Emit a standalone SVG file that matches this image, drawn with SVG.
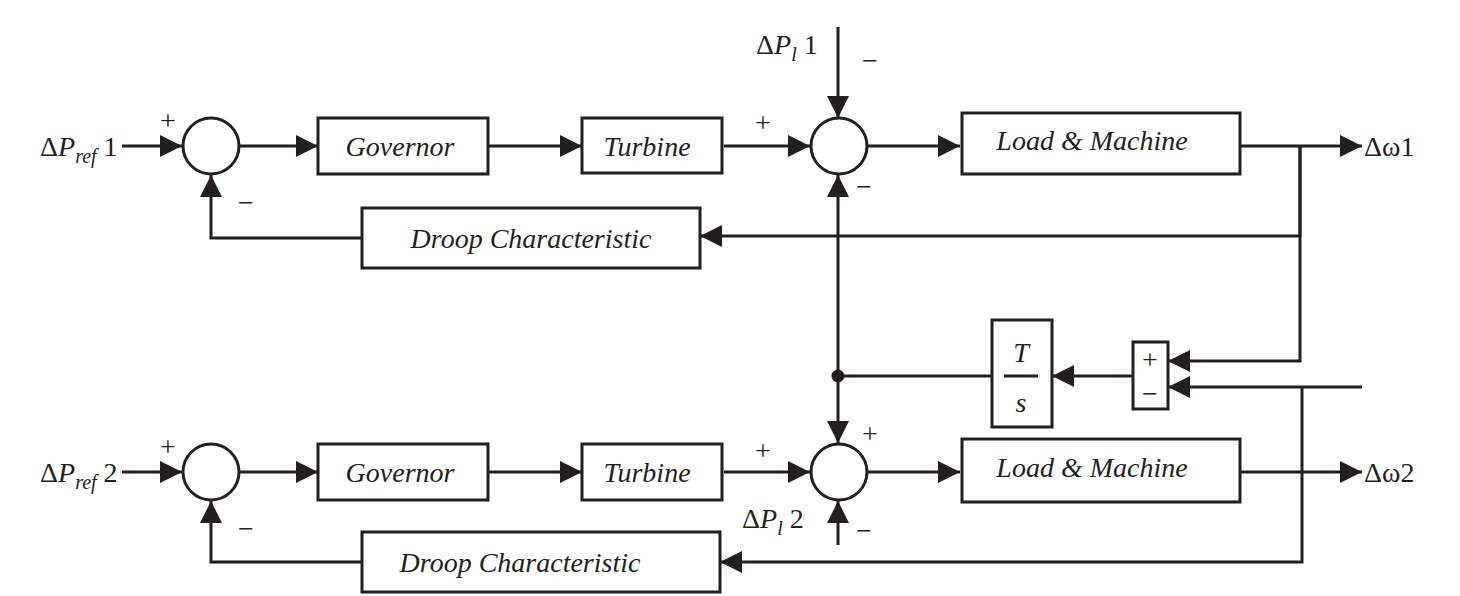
<svg xmlns="http://www.w3.org/2000/svg" width="1460" height="596" viewBox="0 0 1460 596">
<style>
.b{fill:#fff;stroke:#231f20;stroke-width:3}
.l{fill:none;stroke:#231f20;stroke-width:3}
text{font-family:"Liberation Serif",serif;fill:#231f20;font-size:28px}
.i{font-style:italic}
.c{text-anchor:middle}
</style>
<defs>
<marker id="a" markerWidth="12" markerHeight="12" viewBox="0 0 12 12" refX="12" refY="6" orient="auto" markerUnits="userSpaceOnUse"><path d="M0,0 L0,12 L12,6z" fill="none"/></marker>
<marker id="ar" viewBox="0 0 22 22" refX="22" refY="11" markerWidth="22" markerHeight="22" orient="auto" markerUnits="userSpaceOnUse"><path d="M0,0 L22,11 L0,22z" fill="#231f20"/></marker>
</defs>
<g id="connectors" class="l">
<path d="M122,146 H182" marker-end="url(#ar)"/>
<path d="M240,146 H318" marker-end="url(#ar)"/>
<path d="M488,146 H582" marker-end="url(#ar)"/>
<path d="M724,146 H810" marker-end="url(#ar)"/>
<path d="M868,146 H960" marker-end="url(#ar)"/>
<path d="M1240,146 H1362" marker-end="url(#ar)"/>
<path d="M838,27 V118" marker-end="url(#ar)"/>
<path d="M1300,146 V236 H700" marker-end="url(#ar)"/>
<path d="M362,238 H211 V175" marker-end="url(#ar)"/>
<path d="M838,376 V175" marker-end="url(#ar)"/>
<path d="M838,376 V443" marker-end="url(#ar)"/>
<path d="M992,376 H838"/>
<path d="M1300,146 V361 H1168" marker-end="url(#ar)"/>
<path d="M1133,376 H1052" marker-end="url(#ar)"/>
<path d="M1362,387 H1168" marker-end="url(#ar)" transform="translate(0,0)"/>
<path d="M1302,387 V562 H720" marker-end="url(#ar)"/>
<path d="M122,472 H182" marker-end="url(#ar)"/>
<path d="M240,472 H318" marker-end="url(#ar)"/>
<path d="M488,472 H582" marker-end="url(#ar)"/>
<path d="M724,472 H810" marker-end="url(#ar)"/>
<path d="M868,472 H960" marker-end="url(#ar)"/>
<path d="M1240,472 H1362" marker-end="url(#ar)"/>
<path d="M362,562 H211 V501" marker-end="url(#ar)"/>
<path d="M838,545 V501" marker-end="url(#ar)"/>
<circle cx="838" cy="376" r="5" fill="#231f20"/>
</g>
<g id="sum1"><circle class="b" cx="211" cy="146" r="28"/><text x="168" y="130" class="c">+</text><text x="246" y="212" class="c">−</text></g>
<g id="ref1"><text x="40" y="156">Δ<tspan class="i">P</tspan><tspan class="i" font-size="20" dy="7">ref</tspan><tspan dy="-7"> 1</tspan></text></g>
<g id="gov1"><rect class="b" x="318" y="118" width="170" height="56"/><text x="400" y="156" class="c i">Governor</text></g>
<g id="tur1"><rect class="b" x="582" y="118" width="140" height="55"/><text x="647" y="156" class="c i">Turbine</text></g>
<g id="sum2"><circle class="b" cx="839" cy="146" r="28"/><text x="763" y="132" class="c">+</text><text x="870" y="70" class="c">−</text><text x="864" y="196" class="c">−</text></g>
<g id="pl1"><text x="756" y="54">Δ<tspan class="i">P</tspan><tspan class="i" font-size="20" dy="7">l</tspan><tspan dy="-7"> 1</tspan></text></g>
<g id="load1"><rect class="b" x="962" y="113" width="278" height="61"/><text x="1092" y="150" class="c i">Load &amp; Machine</text></g>
<g id="w1"><text x="1364" y="156">Δω1</text></g>
<g id="droop1"><rect class="b" x="362" y="208" width="338" height="60"/><text x="531" y="248" class="c i">Droop Characteristic</text></g>
<g id="ts"><rect class="b" x="992" y="320" width="60" height="107"/><text x="1021" y="362" class="c i">T</text><path d="M1004,376 H1038" class="l"/><text x="1021" y="412" class="c i">s</text></g>
<g id="diff"><rect class="b" x="1133" y="342" width="35" height="67"/><text x="1150" y="369" class="c">+</text><text x="1150" y="403" class="c">−</text></g>
<g id="sum3"><circle class="b" cx="211" cy="472" r="28"/><text x="168" y="456" class="c">+</text><text x="246" y="538" class="c">−</text></g>
<g id="ref2"><text x="40" y="482">Δ<tspan class="i">P</tspan><tspan class="i" font-size="20" dy="7">ref</tspan><tspan dy="-7"> 2</tspan></text></g>
<g id="gov2"><rect class="b" x="318" y="444" width="170" height="56"/><text x="400" y="482" class="c i">Governor</text></g>
<g id="tur2"><rect class="b" x="582" y="444" width="140" height="56"/><text x="647" y="482" class="c i">Turbine</text></g>
<g id="sum4"><circle class="b" cx="839" cy="472" r="28"/><text x="763" y="460" class="c">+</text><text x="870" y="443" class="c">+</text><text x="864" y="540" class="c">−</text></g>
<g id="pl2"><text x="742" y="528">Δ<tspan class="i">P</tspan><tspan class="i" font-size="20" dy="7">l</tspan><tspan dy="-7"> 2</tspan></text></g>
<g id="load2"><rect class="b" x="962" y="439" width="278" height="63"/><text x="1092" y="477" class="c i">Load &amp; Machine</text></g>
<g id="w2"><text x="1364" y="482">Δω2</text></g>
<g id="droop2"><rect class="b" x="362" y="532" width="358" height="60"/><text x="520" y="572" class="c i">Droop Characteristic</text></g>
</svg>
